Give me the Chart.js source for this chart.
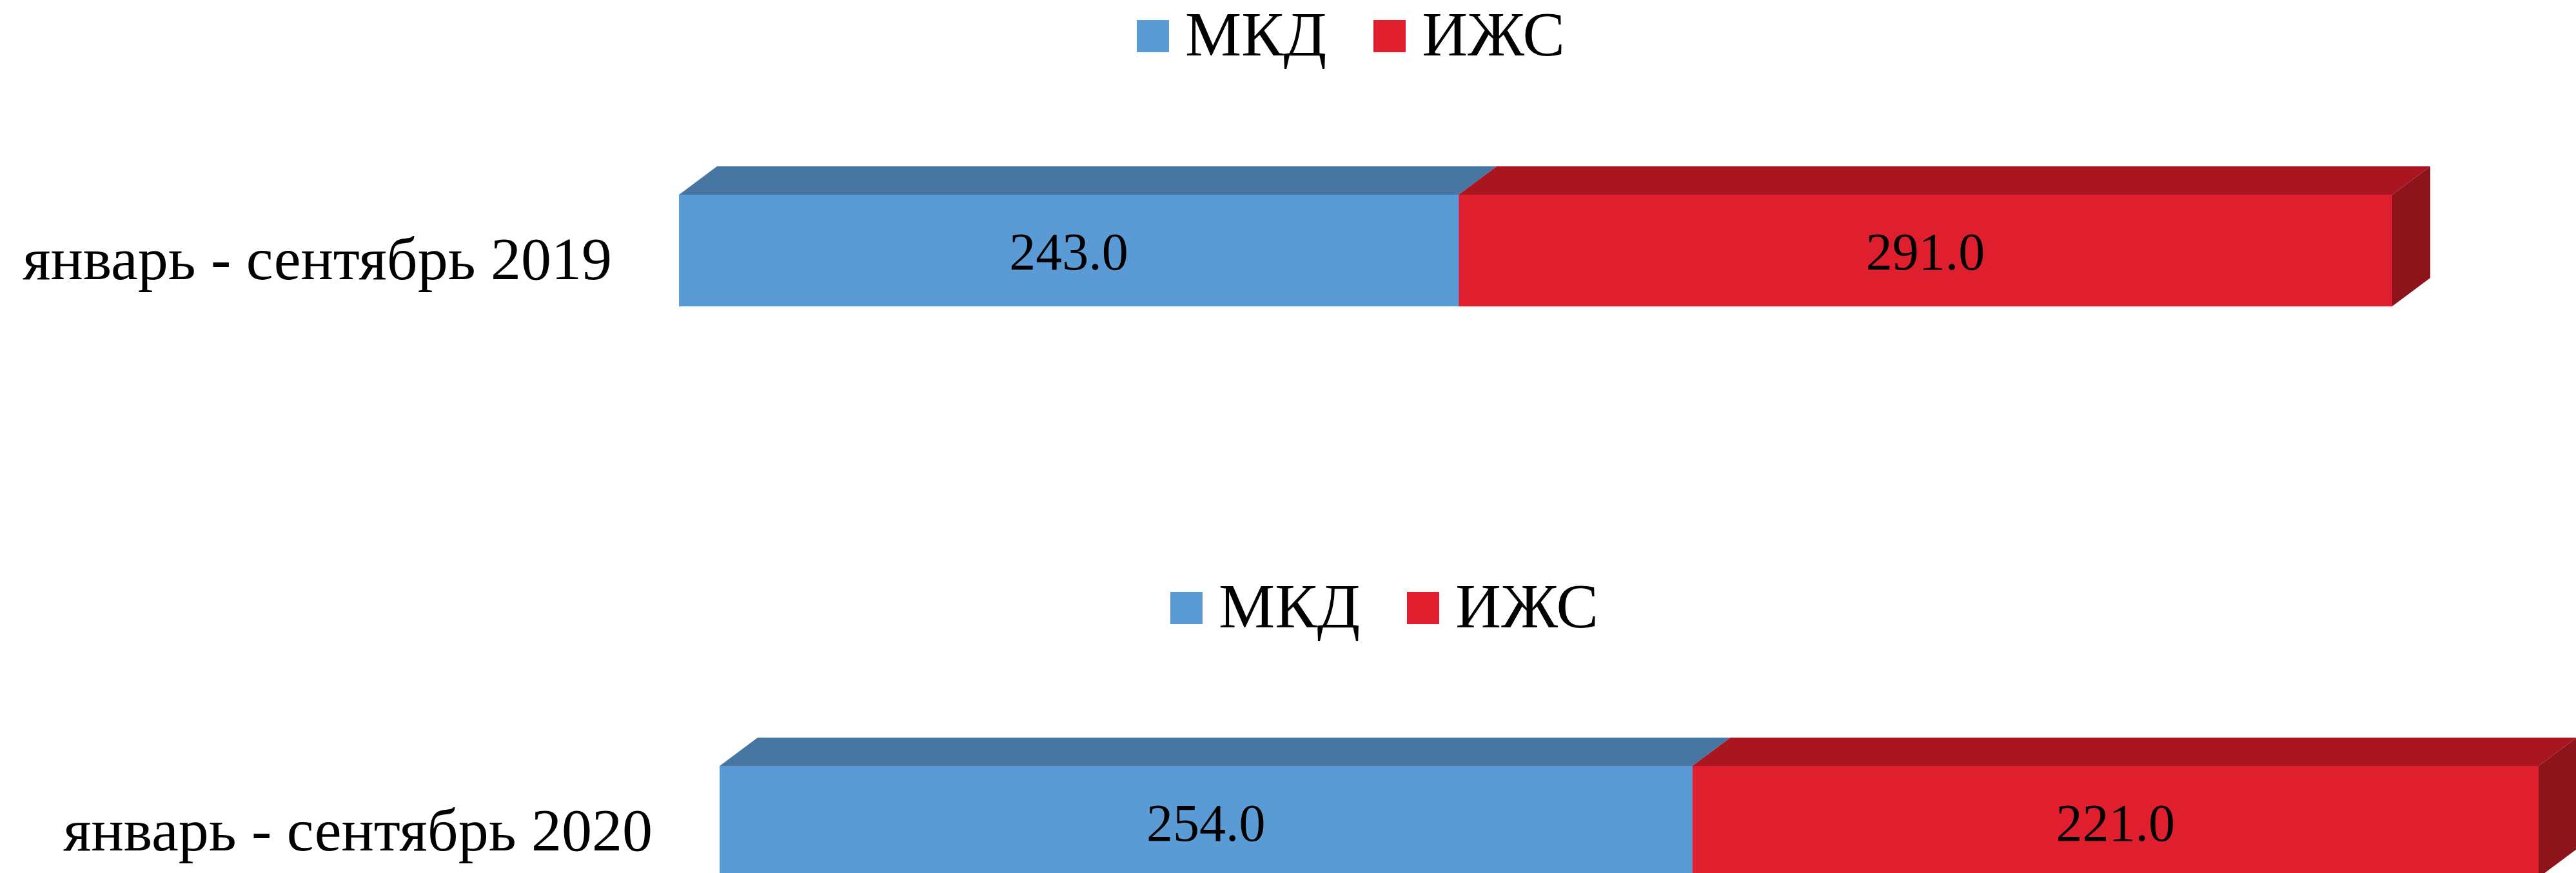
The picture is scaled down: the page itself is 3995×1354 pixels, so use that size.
<!DOCTYPE html>
<html>
<head>
<meta charset="utf-8">
<script src="https://cdn.jsdelivr.net/npm/chart.js@4.4.1/dist/chart.umd.min.js"></script>
<style>
  html, body { margin: 0; padding: 0; background: #ffffff; }
  #page { position: relative; width: 3995px; height: 1354px; overflow: hidden; background: #ffffff; }
  .box { position: absolute; left: 0; width: 3995px; height: 777px; }
  .legend { position: absolute; display: flex; align-items: flex-start; white-space: nowrap;
            font-family: "Liberation Serif", "Times New Roman", serif; font-size: 98px; line-height: 98px; color: #000; }
  .legend .item { display: flex; align-items: flex-start; }
  .legend .item + .item { margin-left: 73px; }
  .legend .sw { width: 50px; height: 50px; margin-top: 27px; margin-right: 25px; }
</style>
</head>
<body>
<div id="page">
  <div class="box" id="box1" style="top:0px"><canvas id="c1"></canvas></div>
  <div class="box" id="box2" style="top:886px"><canvas id="c2"></canvas></div>
  <div class="legend" id="lg1" style="left:1763px; top:4px"></div>
  <div class="legend" id="lg2" style="left:1815px; top:891px"></div>
</div>
<script>
// ---- data ----
const seriesNames = ['МКД', 'ИЖС'];
const categories2019 = ['январь - сентябрь 2019'];
const mkd2019 = [243.0];
const izhs2019 = [291.0];
const categories2020 = ['январь - сентябрь 2020'];
const mkd2020 = [254.0];
const izhs2020 = [221.0];

// ---- styles ----
const FONT = '"Liberation Serif", "Times New Roman", serif';
const frontColors = ['#5B9BD5', '#DF1F2D'];
const topColors = ['#4676A1', '#A91620'];
const sideColors = ['#3E6990', '#8E141C'];
const DEPTH_X = 59, DEPTH_Y = 44;

const bar3d = {
  id: 'bar3d',
  afterDatasetsDraw(chart) {
    const ctx = chart.ctx;
    const n = chart.data.datasets.length;
    ctx.save();
    for (let d = 0; d < n; d++) {
      const meta = chart.getDatasetMeta(d);
      meta.data.forEach((el) => {
        const p = el.getProps(['x', 'y', 'base', 'height'], true);
        const left = Math.min(p.x, p.base), right = Math.max(p.x, p.base);
        const top = p.y - p.height / 2, bottom = p.y + p.height / 2;
        ctx.fillStyle = topColors[d];
        ctx.beginPath();
        ctx.moveTo(left, top);
        ctx.lineTo(left + DEPTH_X, top - DEPTH_Y);
        ctx.lineTo(right + DEPTH_X, top - DEPTH_Y);
        ctx.lineTo(right, top);
        ctx.closePath();
        ctx.fill();
        if (d === n - 1) {
          ctx.fillStyle = sideColors[d];
          ctx.beginPath();
          ctx.moveTo(right, top);
          ctx.lineTo(right + DEPTH_X, top - DEPTH_Y);
          ctx.lineTo(right + DEPTH_X, bottom - DEPTH_Y);
          ctx.lineTo(right, bottom);
          ctx.closePath();
          ctx.fill();
        }
      });
    }
    ctx.fillStyle = '#000000';
    ctx.font = '82px ' + FONT;
    ctx.textAlign = 'center';
    ctx.textBaseline = 'alphabetic';
    for (let d = 0; d < n; d++) {
      const meta = chart.getDatasetMeta(d);
      const ds = chart.data.datasets[d];
      meta.data.forEach((el, i) => {
        const p = el.getProps(['x', 'y', 'base'], true);
        ctx.fillText(Number(ds.data[i]).toFixed(1), (p.x + p.base) / 2, p.y + 29);
      });
    }
    ctx.restore();
  }
};

function buildLegend(chart, id) {
  const host = document.getElementById(id);
  const items = chart.options.plugins.legend.labels.generateLabels(chart);
  items.forEach((it) => {
    const item = document.createElement('div');
    item.className = 'item';
    const sw = document.createElement('span');
    sw.className = 'sw';
    sw.style.background = it.fillStyle;
    const tx = document.createElement('span');
    tx.textContent = it.text;
    item.appendChild(sw);
    item.appendChild(tx);
    host.appendChild(item);
  });
}

function makeChart(id, labels, a, b, xMax, padR, axisW) {
  return new Chart(document.getElementById(id), {
    type: 'bar',
    data: {
      labels: labels,
      datasets: [
        { label: seriesNames[0], data: a, backgroundColor: frontColors[0], barThickness: 173 },
        { label: seriesNames[1], data: b, backgroundColor: frontColors[1], barThickness: 173 }
      ]
    },
    options: {
      indexAxis: 'y',
      responsive: true,
      maintainAspectRatio: false,
      animation: false,
      layout: { padding: { left: 0, right: padR, top: 0, bottom: 0 } },
      plugins: {
        legend: { display: false },
        tooltip: { enabled: false }
      },
      scales: {
        x: { stacked: true, display: false, min: 0, max: xMax },
        y: {
          stacked: true,
          grid: { display: false, drawTicks: false },
          border: { display: false },
          ticks: { color: '#000000', padding: 104, labelOffset: 20, font: { family: FONT, size: 94 } },
          afterFit(scale) { scale.width = axisW; }
        }
      }
    },
    plugins: [bar3d]
  });
}

const ch1 = makeChart('c1', categories2019, mkd2019, izhs2019, 534, 285, 1053);
const ch2 = makeChart('c2', categories2020, mkd2020, izhs2020, 475, 58, 1116);
buildLegend(ch1, 'lg1');
buildLegend(ch2, 'lg2');
</script>
</body>
</html>
